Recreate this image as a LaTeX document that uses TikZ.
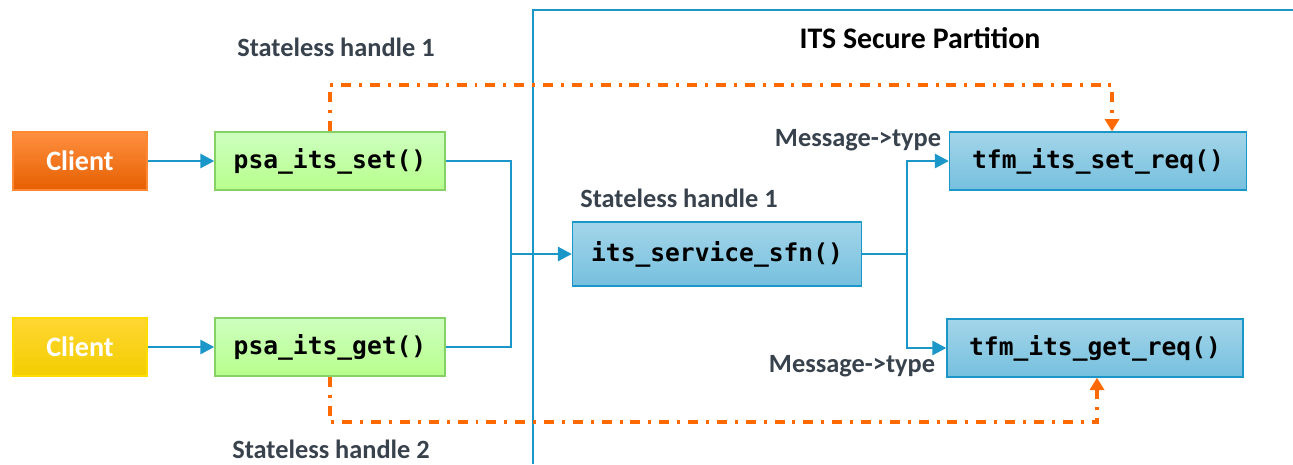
\documentclass[tikz,border=0pt]{standalone}
\usepackage{fontspec}
\setmainfont{Carlito}
\newfontfamily\codefont{DejaVu Sans Mono}
\usepackage{tikz}
\usetikzlibrary{calc, positioning, arrows.meta}
\definecolor{lnblue}{HTML}{1A96C8}
\definecolor{lnorange}{HTML}{FF6A00}
\definecolor{lbgray}{HTML}{38424D}
\tikzstyle{box}=[draw, line width=0.8pt, minimum width=4.6cm, minimum height=1.16cm, inner sep=0pt, shading=axis]
\tikzstyle{client}=[box, minimum width=2.68cm, text=white, font=\bfseries\fontsize{16}{19}\selectfont]
\tikzstyle{fn}=[box, font=\codefont\bfseries\fontsize{14}{17}\selectfont]
\tikzstyle{lab}=[text=lbgray, font=\bfseries\fontsize{15}{18}\selectfont]
\tikzstyle{bl}=[draw=lnblue, line width=1.6pt]
\tikzstyle{og}=[draw=lnorange, line width=2.3pt, dash pattern=on 5.7pt off 4.5pt on 1.7pt off 4.5pt]
\tikzset{>={Triangle[length=8pt,width=8pt]}}

\begin{document}
\begin{tikzpicture}[x=0.02cm, y=-0.02cm]
\useasboundingbox (0,0) rectangle (1293,464);
% partition frame
\draw[lnblue, line width=1.6pt] (533,464) -- (533,10) -- (1293,10);
\node[font=\bfseries\fontsize{17}{20}\selectfont] (title) at (920,38) {ITS Secure Partition};
\node[client, draw=lnorange!80, top color=lnorange!75!white, bottom color=lnorange!90!black] (C1) at (80,161) {Client};
\node[client, draw=yellow!80!orange, top color=yellow!60!orange!80, bottom color=yellow!70!orange!95!black] (C2) at (80,347) {Client};
\node[fn, draw=green!60!lime!70!black!60!white, top color=lime!30!green!25!white, bottom color=lime!50!green!45!white] (P1) at (330,161) {psa\_its\_set()};
\node[fn, draw=green!60!lime!70!black!60!white, top color=lime!30!green!25!white, bottom color=lime!50!green!45!white] (P2) at (330,347) {psa\_its\_get()};
\node[fn, minimum width=5.78cm, minimum height=1.28cm, draw=lnblue, top color=lnblue!40!white, bottom color=lnblue!60!white] (S) at (717,254) {its\_service\_sfn()};
\node[fn, minimum width=5.94cm, draw=lnblue, top color=lnblue!40!white, bottom color=lnblue!60!white] (T1) at (1098,161) {tfm\_its\_set\_req()};
\node[fn, minimum width=5.92cm, draw=lnblue, top color=lnblue!40!white, bottom color=lnblue!60!white] (T2) at (1095,348) {tfm\_its\_get\_req()};
\node[lab] (L1) at (336,47) {Stateless handle 1};
\node[lab] (L2) at (331,449) {Stateless handle 2};
\node[lab] (L3) at (679,198) {Stateless handle 1};
\node[lab] (M1) at (858,140) {Message->type};
\node[lab] (M2) at (852,366) {Message->type};
\coordinate (J1) at (511,254);
\coordinate (J2) at (907,254);
\coordinate (O1) at (1112,85);
\coordinate (O2) at (1097,422);
\draw[bl, ->] (C1) -- (P1);
\draw[bl, ->] (C2) -- (P2);
\draw[bl] (P1.east) -| (J1);
\draw[bl] (P2.east) -| (J1);
\draw[bl, ->] (J1) -- (S.west);
\draw[bl] (S.east) -- (J2);
\draw[bl, ->] (J2) |- (T1.west);
\draw[bl, ->] (J2) |- (T2.west);
\draw[og, -{Triangle[length=7pt,width=8pt]}] (P1.north) |- (O1) -- (O1 |- T1.north);
\draw[og, -{Triangle[length=7pt,width=8pt]}] (P2.south) |- (O2) -- (O2 |- T2.south);
\end{tikzpicture}
\end{document}
